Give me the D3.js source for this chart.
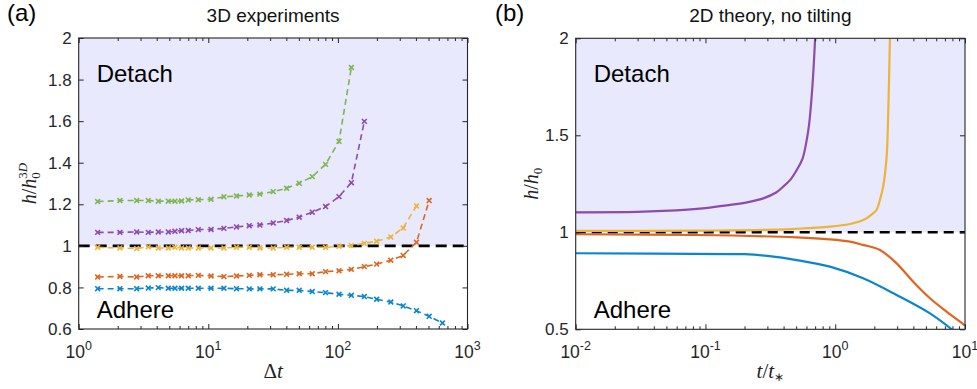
<!DOCTYPE html>
<html><head><meta charset="utf-8">
<script src="https://cdn.jsdelivr.net/npm/d3@7"></script>
<style>body{margin:0;background:#fff}</style>
</head><body>
<svg id="c" width="977" height="389" xmlns="http://www.w3.org/2000/svg"></svg>
<script>
// ---------- DATA: panel (a) 3D experiments ----------
const dtLeft = [1.40,2.08,2.80,3.44,4.11,4.91,5.53,6.22,7.00,8.37,10.5,13.2,16.5,20.7,25.0,31.7,40.2,50.3,63.4,80.3,102,127,160,199,256,319,404,506,641];
const greenA  = [1.213,1.218,1.218,1.218,1.215,1.215,1.215,1.216,1.221,1.222,1.224,1.236,1.240,1.245,1.249,1.261,1.277,1.301,1.333,1.392,1.503,1.858];
const purpleA = [1.065,1.065,1.067,1.065,1.067,1.067,1.070,1.073,1.074,1.078,1.079,1.084,1.091,1.097,1.100,1.110,1.122,1.138,1.162,1.189,1.237,1.304,1.599];
const yellowA = [0.993,0.990,0.987,0.995,0.990,0.990,0.993,0.990,0.990,0.990,0.990,0.990,0.993,0.993,0.990,0.990,0.993,0.993,0.993,0.993,0.998,1.001,1.012,1.022,1.043,1.086,1.192];
const orangeA = [0.850,0.853,0.850,0.856,0.856,0.856,0.856,0.856,0.856,0.858,0.855,0.852,0.855,0.858,0.861,0.861,0.863,0.866,0.866,0.876,0.880,0.887,0.900,0.912,0.931,0.954,1.017,1.218];
const blueA   = [0.794,0.794,0.794,0.797,0.799,0.796,0.796,0.796,0.796,0.796,0.796,0.796,0.794,0.793,0.793,0.793,0.786,0.786,0.780,0.775,0.767,0.762,0.756,0.743,0.730,0.711,0.688,0.661,0.629];

// ---------- DATA: panel (b) 2D theory ----------
const purpleBT = [0.01,0.03,0.0473,0.1,0.155,0.2,0.279,0.35,0.397,0.45,0.505,0.56,0.603,0.63,0.658,0.68,0.70];
const purpleBH = [1.103,1.105,1.110,1.125,1.141,1.152,1.175,1.205,1.235,1.27,1.321,1.38,1.476,1.56,1.699,1.84,2.0];
const yellowBT = [0.01,0.1,0.279,0.5,0.91,1.30,1.64,1.96,2.08,2.21,2.34,2.49,2.56,2.64];
const yellowBH = [1.007,1.009,1.012,1.018,1.029,1.043,1.063,1.098,1.115,1.167,1.235,1.390,1.613,2.0];
const orangeBT = [0.01,0.0855,0.505,0.91,1.3,1.64,2.21,2.97,3.99,5.37,7.21,9.69,10];
const orangeBH = [0.990,0.986,0.974,0.964,0.952,0.935,0.909,0.840,0.745,0.660,0.591,0.527,0.52];
const blueBT = [0.01,0.155,0.2,0.3,0.505,0.91,1.64,2.97,5.37,7.9];
const blueBH = [0.892,0.888,0.887,0.878,0.857,0.823,0.763,0.677,0.582,0.50];

// ---------- TICKS / TEXT ----------
const xMajorA = [1,10,100,1000];
const yTicksA = [0.6,0.8,1,1.2,1.4,1.6,1.8,2];
const xMajorB = [0.01,0.1,1,10];
const yTicksB = [0.5,1,1.5,2];
const titles = ["3D experiments","2D theory, no tilting"];
const panelTags = ["(a)","(b)"];

const colors = {blue:"#0a86cf",orange:"#e0651f",yellow:"#ebb43a",purple:"#8e4aae",green:"#80b44e"};
const shade = "#e8e9fc";
const axisColor = "#262626";
const sans = "'Liberation Sans', Arial, Helvetica, sans-serif";
const serif = "'Liberation Serif', 'Times New Roman', serif";

const svg = d3.select("#c");

function minorTicks(domain){
  const out=[];
  const k0=Math.floor(Math.log10(domain[0])), k1=Math.ceil(Math.log10(domain[1]));
  for(let k=k0;k<k1;k++) for(let m=2;m<=9;m++){const v=m*Math.pow(10,k); if(v>domain[0]&&v<domain[1]) out.push(v);}
  return out;
}

function makePanel(p){
  const g = svg.append("g");
  const x = d3.scaleLog().domain(p.xd).range([p.left,p.right]);
  const y = d3.scaleLinear().domain(p.yd).range([p.bottom,p.top]);
  const clipId = "clip"+p.id;
  svg.append("defs").append("clipPath").attr("id",clipId).append("rect")
    .attr("x",p.left).attr("y",p.top).attr("width",p.right-p.left).attr("height",p.bottom-p.top);
  g.append("rect").attr("x",p.left).attr("y",y(p.yd[1])).attr("width",p.right-p.left)
    .attr("height",y(1)-y(p.yd[1])).attr("fill",shade);
  return {g,x,y,clipId};
}

function drawAxes(P,p){
  const {g,x,y}=P;
  const minors = minorTicks(p.xd);
  const styleAxis = sel=>{sel.select(".domain").remove(); sel.selectAll("line").attr("stroke",axisColor).attr("stroke-width",1); sel.selectAll("text").remove();};
  g.append("g").attr("transform",`translate(0,${p.bottom})`).call(d3.axisBottom(x).tickValues(p.xMajor).tickSize(-5).tickSizeOuter(0)).call(styleAxis);
  g.append("g").attr("transform",`translate(0,${p.bottom})`).call(d3.axisBottom(x).tickValues(minors).tickSize(-3).tickSizeOuter(0)).call(styleAxis);
  g.append("g").attr("transform",`translate(0,${p.top})`).call(d3.axisTop(x).tickValues(p.xMajor).tickSize(-5).tickSizeOuter(0)).call(styleAxis);
  g.append("g").attr("transform",`translate(0,${p.top})`).call(d3.axisTop(x).tickValues(minors).tickSize(-3).tickSizeOuter(0)).call(styleAxis);
  g.append("g").attr("transform",`translate(${p.left},0)`).call(d3.axisLeft(y).tickValues(p.yTicks).tickSize(-5).tickSizeOuter(0)).call(styleAxis);
  g.append("g").attr("transform",`translate(${p.right},0)`).call(d3.axisRight(y).tickValues(p.yTicks).tickSize(-5).tickSizeOuter(0)).call(styleAxis);
  g.append("rect").attr("x",p.left).attr("y",p.top).attr("width",p.right-p.left).attr("height",p.bottom-p.top)
    .attr("fill","none").attr("stroke",axisColor).attr("stroke-width",1.1);
  g.append("g").selectAll("text").data(p.yTicks).join("text")
    .attr("x",p.left-7).attr("y",d=>y(d)).attr("dy","0.36em").attr("text-anchor","end")
    .attr("font-family",sans).attr("font-size",17).attr("fill",axisColor).text(d3.format("~g"));
  const xl = g.append("g").selectAll("text").data(p.xMajor).join("text")
    .attr("x",d=>x(d)).attr("y",p.bottom+29).attr("text-anchor","middle")
    .attr("font-family",sans).attr("font-size",17.5).attr("fill",axisColor);
  xl.append("tspan").text("10");
  xl.append("tspan").attr("font-size",12.5).attr("dy",-8).text(d=>String(Math.round(Math.log10(d))));
}

function crossMarks(g,pts,color){
  g.selectAll(null).data(pts).join("path")
    .attr("transform",d=>`translate(${d[0]},${d[1]})`)
    .attr("d","M-2.4,-2.4L2.4,2.4M-2.4,2.4L2.4,-2.4")
    .attr("stroke",color).attr("stroke-width",1.6).attr("fill","none");
}

// ---------- Panel (a) ----------
const pa = {id:"a",left:78.7,right:467.5,top:38,bottom:329,xd:[1,1000],yd:[0.6,2],xMajor:xMajorA,yTicks:yTicksA};
const A = makePanel(pa);
const seriesA = [[blueA,colors.blue],[orangeA,colors.orange],[yellowA,colors.yellow],[purpleA,colors.purple],[greenA,colors.green]];
const dataG = A.g.append("g").attr("clip-path",`url(#${A.clipId})`);
dataG.append("line").attr("x1",pa.left).attr("x2",pa.right).attr("y1",A.y(1)).attr("y2",A.y(1))
  .attr("stroke","#000").attr("stroke-width",2.6).attr("stroke-dasharray","11,6");
seriesA.forEach(([vals,col])=>{
  const pts = vals.map((v,i)=>[A.x(dtLeft[i]),A.y(v)]);
  dataG.append("path").attr("d",d3.line()(pts)).attr("fill","none").attr("stroke",col)
    .attr("stroke-width",1.6).attr("stroke-dasharray","6,4");
  crossMarks(dataG,pts,col);
});
drawAxes(A,pa);

// ---------- Panel (b) ----------
const pb = {id:"b",left:575.7,right:965,top:38.3,bottom:329.3,xd:[0.01,10],yd:[0.5,2],xMajor:xMajorB,yTicks:yTicksB};
const B = makePanel(pb);
const dataB = B.g.append("g").attr("clip-path",`url(#${B.clipId})`);
dataB.append("line").attr("x1",pb.left).attr("x2",pb.right).attr("y1",B.y(1)).attr("y2",B.y(1))
  .attr("stroke","#000").attr("stroke-width",2.6).attr("stroke-dasharray","10,6");
const seriesB = [[blueBT,blueBH,colors.blue],[orangeBT,orangeBH,colors.orange],[yellowBT,yellowBH,colors.yellow],[purpleBT,purpleBH,colors.purple]];
seriesB.forEach(([ts,hs,col])=>{
  const line = d3.line().x((d,i)=>B.x(ts[i])).y(d=>B.y(d)).curve(d3.curveCatmullRom.alpha(0.5));
  dataB.append("path").attr("d",line(hs)).attr("fill","none").attr("stroke",col).attr("stroke-width",2.2);
});
drawAxes(B,pb);

// ---------- Texts ----------
[[pa,A],[pb,B]].forEach(([p,P],i)=>{
  svg.append("text").attr("x",(p.left+p.right)/2).attr("y",22).attr("text-anchor","middle")
    .attr("font-family",sans).attr("font-size",19).attr("fill","#111").text(titles[i]);
  svg.append("text").attr("x",i===0?7:495).attr("y",21).attr("font-family",sans).attr("font-size",24)
    .attr("fill","#000").text(panelTags[i]);
  svg.append("text").attr("x",p.left+18).attr("y",82).attr("font-family",sans).attr("font-size",24)
    .attr("fill","#000").text("Detach");
  svg.append("text").attr("x",p.left+18).attr("y",318).attr("font-family",sans).attr("font-size",24)
    .attr("fill","#000").text("Adhere");
});

const xlA = svg.append("text").attr("x",(pa.left+pa.right)/2).attr("y",378).attr("text-anchor","middle")
  .attr("font-family",serif).attr("font-size",21).attr("fill","#222");
xlA.append("tspan").text("Δ");
xlA.append("tspan").attr("font-style","italic").text("t");

const xlB = svg.append("text").attr("x",(pb.left+pb.right)/2).attr("y",378).attr("text-anchor","middle")
  .attr("font-family",serif).attr("font-size",21).attr("fill","#222");
xlB.append("tspan").attr("font-style","italic").text("t");
xlB.append("tspan").text("/");
xlB.append("tspan").attr("font-style","italic").text("t");
xlB.append("tspan").attr("font-size",12).attr("dy",3).text("∗");

const ylA = svg.append("text").attr("transform",`translate(36,${(pa.top+pa.bottom)/2}) rotate(-90)`)
  .attr("text-anchor","middle").attr("font-family",serif).attr("font-size",20).attr("fill","#222");
ylA.append("tspan").attr("font-style","italic").text("h");
ylA.append("tspan").text("/");
ylA.append("tspan").attr("font-style","italic").text("h");
ylA.append("tspan").attr("font-size",13).attr("dy",4).text("0");
ylA.append("tspan").attr("font-size",13).attr("dx",-6.5).attr("dy",-13).text("3");
ylA.append("tspan").attr("font-size",13).attr("font-style","italic").text("D");

const ylB = svg.append("text").attr("transform",`translate(538,${(pb.top+pb.bottom)/2}) rotate(-90)`)
  .attr("text-anchor","middle").attr("font-family",serif).attr("font-size",20).attr("fill","#222");
ylB.append("tspan").attr("font-style","italic").text("h");
ylB.append("tspan").text("/");
ylB.append("tspan").attr("font-style","italic").text("h");
ylB.append("tspan").attr("font-size",13).attr("dy",4).text("0");
</script>
</body></html>
